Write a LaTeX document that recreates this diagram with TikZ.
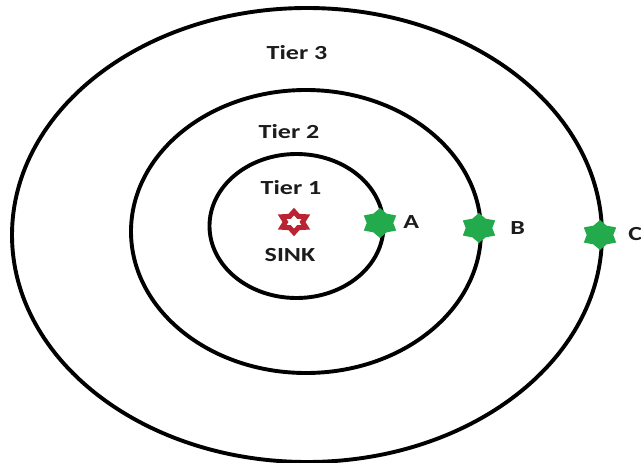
\documentclass[tikz,border=0pt]{standalone}
\usepackage{fontspec}
\setmainfont{Carlito}
\usetikzlibrary{shapes.geometric}
\definecolor{txt}{RGB}{28,28,28}
\definecolor{nodegreen}{RGB}{34,170,76}
\definecolor{sinkred}{RGB}{185,35,50}
\tikzset{
  ring/.style={draw=black, line width=3.9pt},
  lbl/.style={font=\fontsize{20}{24}\selectfont\bfseries, text=txt, inner sep=0pt, xscale=1.3},
  sensor/.style={star, star points=6, star point ratio=1.4, minimum size=28pt, inner sep=0pt,
    fill=nodegreen, draw=nodegreen, line width=1.5pt, xscale=1.25},
  sinkstar/.style={star, star points=6, star point ratio=1.6, minimum size=21pt, inner sep=0pt,
    draw=sinkred, line width=5pt, fill=white, xscale=1.3}
}
\begin{document}
\begin{tikzpicture}[x=1pt, y=-1pt]
\useasboundingbox (0,0) rectangle (641,463);
\fill[white] (0,0) rectangle (641,463);
% rings
\coordinate (c3) at (307,235);
\coordinate (c2) at (306,231.5);
\coordinate (c1) at (296.5,226);
\draw[ring] (c3) ellipse [x radius=295pt, y radius=227pt];
\draw[ring] (c2) ellipse [x radius=175pt, y radius=141.5pt];
\draw[ring] (c1) ellipse [x radius=87pt, y radius=72pt];
% labels
\node[lbl] (t3) at (297,53) {Tier 3};
\node[lbl] (t2) at (289,132) {Tier 2};
\node[lbl] (t1) at (291,187.5) {Tier 1};
\node[lbl] (sinklbl) at (290,255) {SINK};
% sink
\node[sinkstar] (sink) at (294,222) {};
% sensors
\node[sensor] (A) at (380,223) {};
\node[sensor] (B) at (479,228) {};
\node[sensor] (C) at (600,235) {};
\node[lbl, anchor=west] (la) at (403,222) {A};
\node[lbl, anchor=west] (lb) at (510,228) {B};
\node[lbl, anchor=west] (lc) at (628,234) {C};
\end{tikzpicture}
\end{document}
